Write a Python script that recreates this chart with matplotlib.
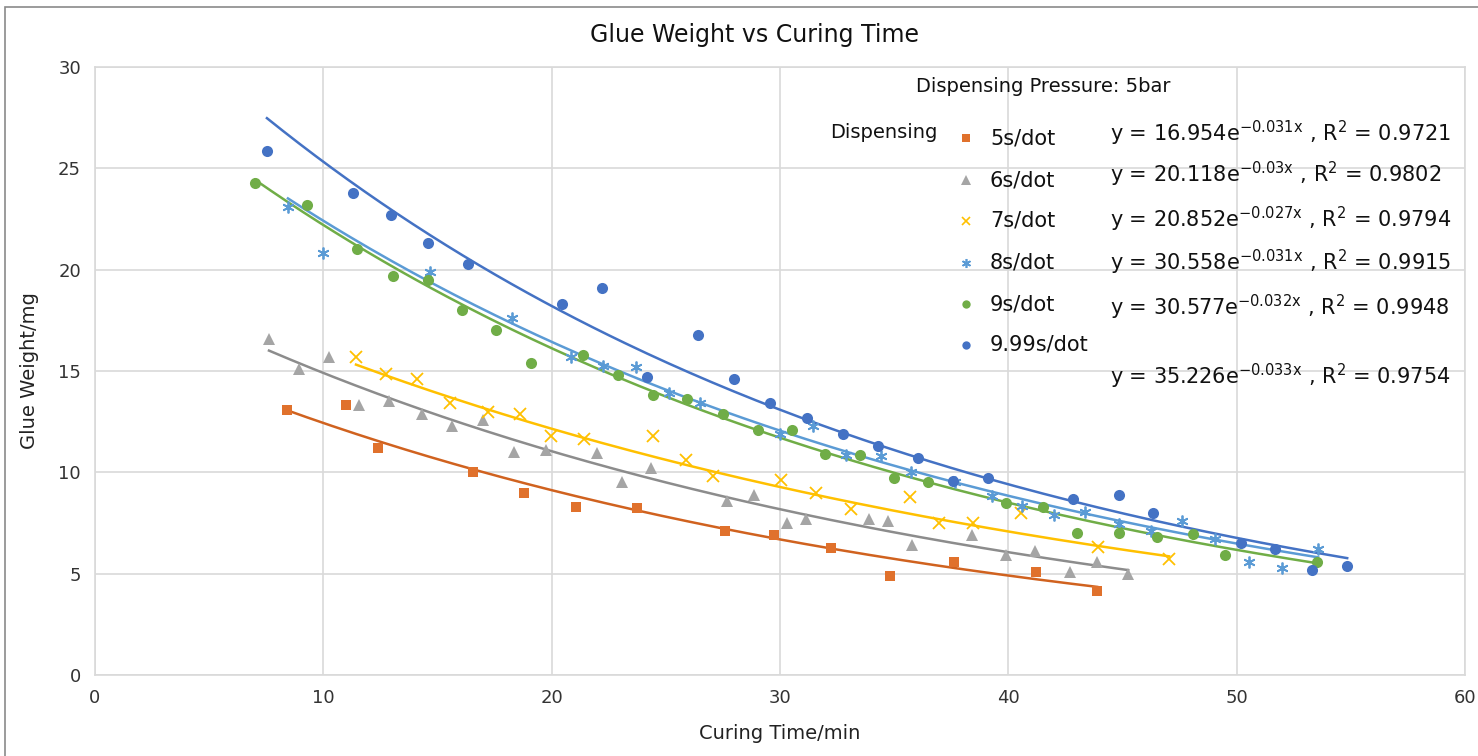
import numpy as np
import matplotlib
matplotlib.use("Agg")
import matplotlib.pyplot as plt
from matplotlib.patches import Rectangle

plt.rcParams['font.family'] = ['DejaVu Sans']
plt.rcParams['mathtext.default'] = 'regular'

# ---------------- data ----------------
labels = ["5s/dot", "6s/dot", "7s/dot", "8s/dot", "9s/dot", "9.99s/dot"]

x_5s = [8.41, 10.99, 12.40, 16.56, 18.79, 21.07, 23.74, 27.60, 29.74, 32.24, 34.82, 37.63, 41.22, 43.89]
y_5s = [13.1, 13.3, 11.2, 10.0, 9.0, 8.3, 8.25, 7.1, 6.9, 6.27, 4.88, 5.57, 5.08, 4.14]

x_6s = [7.62, 8.94, 10.25, 11.56, 12.88, 14.32, 15.64, 16.99, 18.35, 19.75, 21.99, 23.08,
        24.35, 27.68, 28.87, 30.31, 31.14, 33.90, 34.73, 35.79, 38.41, 39.90, 41.17, 42.71, 43.89, 45.25]
y_6s = [16.6, 15.1, 15.7, 13.3, 13.5, 12.9, 12.3, 12.6, 11.0, 11.1, 10.95, 9.5,
        10.2, 8.6, 8.9, 7.5, 7.7, 7.7, 7.6, 6.4, 6.9, 5.9, 6.1, 5.1, 5.6, 5.0]

x_7s = [11.43, 12.75, 14.10, 15.55, 17.21, 18.62, 19.97, 21.42, 24.44, 25.89, 27.07, 30.05,
        31.58, 33.11, 35.70, 36.97, 38.46, 40.56, 43.93, 47.04]
y_7s = [15.7, 14.85, 14.6, 13.4, 13.0, 12.9, 11.8, 11.64, 11.8, 10.6, 9.8, 9.6,
        9.0, 8.2, 8.8, 7.5, 7.5, 8.0, 6.3, 5.7]

x_8s = [8.45, 9.99, 14.67, 18.27, 20.85, 22.25, 23.70, 25.14, 26.50, 30.00, 31.45, 32.90,
        34.43, 35.74, 37.67, 39.29, 40.60, 42.00, 43.36, 44.85, 46.25, 47.61, 49.06, 50.55, 52.00, 53.57]
y_8s = [23.1, 20.8, 19.9, 17.6, 15.7, 15.24, 15.2, 13.9, 13.4, 11.9, 12.3, 10.85,
        10.8, 10.0, 9.5, 8.85, 8.34, 7.9, 8.04, 7.45, 7.1, 7.6, 6.7, 5.6, 5.3, 6.2]

x_9s = [7.00, 9.29, 11.46, 13.05, 14.59, 16.07, 17.56, 19.10, 21.38, 22.90, 24.44, 25.93,
        27.50, 29.04, 30.53, 31.98, 33.51, 35.00, 36.49, 39.90, 41.52, 43.01, 44.85, 46.52,
        48.10, 49.50, 53.53]
y_9s = [24.3, 23.2, 21.0, 19.7, 19.5, 18.0, 17.0, 15.4, 15.8, 14.8, 13.8, 13.6,
        12.9, 12.1, 12.1, 10.9, 10.85, 9.7, 9.5, 8.5, 8.3, 7.0, 7.0, 6.8,
        6.96, 5.9, 5.6]

x_999s = [7.53, 11.30, 12.97, 14.59, 16.34, 20.46, 22.21, 24.18, 26.41, 27.99, 29.57, 31.19,
          32.76, 34.30, 36.05, 37.58, 39.12, 42.84, 44.85, 46.34, 50.20, 51.69, 53.31, 54.84]
y_999s = [25.85, 23.8, 22.7, 21.3, 20.3, 18.3, 19.1, 14.7, 16.8, 14.6, 13.4, 12.7,
          11.9, 11.3, 10.7, 9.57, 9.7, 8.7, 8.9, 8.0, 6.5, 6.2, 5.2, 5.4]

# trendline coefficients shown on the chart: y = a * exp(b x)
trend_a = [16.954, 20.118, 20.852, 30.558, 30.577, 35.226]
trend_b = [-0.031, -0.03, -0.027, -0.031, -0.032, -0.033]
trend_a_txt = ["16.954", "20.118", "20.852", "30.558", "30.577", "35.226"]
trend_b_txt = ["-0.031x", "-0.03x", "-0.027x", "-0.031x", "-0.032x", "-0.033x"]
r2_txt = ["0.9721", "0.9802", "0.9794", "0.9915", "0.9948", "0.9754"]

xs = [x_5s, x_6s, x_7s, x_8s, x_9s, x_999s]
ys = [y_5s, y_6s, y_7s, y_8s, y_9s, y_999s]

x_ticks = [0, 10, 20, 30, 40, 50, 60]
y_ticks = [0, 5, 10, 15, 20, 25, 30]

# ---------------- style ----------------
colors = ["#E0712C", "#A5A5A5", "#FFC000", "#5B9BD5", "#70AD47", "#4472C4"]
line_colors = ["#D0621F", "#8C8C8C", "#FFC000", "#5B9BD5", "#70AD47", "#4472C4"]
markers = ["s", "^", "x", (6, 2, 0), "o", "o"]
msizes = [7.5, 9, 8, 8.5, 8, 8]
leg_msizes = [6, 6.5, 6, 6.5, 6, 6]

W, H = 1478, 756
fig = plt.figure(figsize=(W / 100, H / 100), dpi=100)
fig.patches.append(Rectangle((5 / W, -0.05), 1.1, 1.05 - 7 / H, transform=fig.transFigure,
                             fill=False, edgecolor="#8a8a8a", lw=1.2))

left, right, top, bottom = 95, 1465, 67, 675
ax = fig.add_axes([left / W, 1 - bottom / H, (right - left) / W, (bottom - top) / H])

for i in range(6):
    x = np.array(xs[i]); y = np.array(ys[i])
    m = markers[i]
    filled = m in ("o", "s", "^")
    ax.plot(x, y, linestyle="none", marker=m, ms=msizes[i], mew=0 if filled else 1.3,
            color=colors[i], zorder=3)
    xt = np.linspace(x.min(), x.max(), 200)
    ax.plot(xt, trend_a[i] * np.exp(trend_b[i] * xt), color=line_colors[i], lw=1.8, zorder=2)

ax.set_xlim(0, 60)
ax.set_ylim(0, 30)
ax.set_xticks(x_ticks)
ax.set_yticks(y_ticks)
ax.grid(True, color="#d9d9d9", lw=1.2)
ax.set_axisbelow(True)
for s in ax.spines.values():
    s.set_color("#d9d9d9")
    s.set_linewidth(1.2)
ax.tick_params(length=0, labelsize=13, colors="#333333", pad=10)

ax.set_xlabel("Curing Time/min", fontsize=14, color="#222222", labelpad=12)
ax.set_ylabel("Glue Weight/mg", fontsize=14, color="#222222", labelpad=14)
fig.text(755 / W, 1 - 35 / H, "Glue Weight vs Curing Time", ha="center", va="center",
         fontsize=17, color="#111111")

# legend / annotations (in pixel positions)
def px(xp, yp):
    return xp / W, 1 - yp / H

fig.text(*px(1043, 86), "Dispensing Pressure: 5bar", ha="center", va="center", fontsize=14, color="#111")
fig.text(*px(830, 132), "Dispensing", ha="left", va="center", fontsize=14, color="#111")
leg_y = [138, 180, 221, 263, 304, 345]
eq_y = [133, 174, 219, 262, 307, 376]
for i in range(6):
    filled = markers[i] in ("o", "s", "^")
    ax.plot([(966 - left) / (right - left) * 60], [(bottom - leg_y[i]) / (bottom - top) * 30],
            linestyle="none", marker=markers[i], ms=leg_msizes[i],
            mew=0 if filled else 1.2, color=colors[i], clip_on=False, zorder=4)
    fig.text(*px(990, leg_y[i]), labels[i], ha="left", va="center", fontsize=15, color="#111")
    fig.text(*px(1110, eq_y[i]),
             "y = " + trend_a_txt[i] + "e$^{" + trend_b_txt[i] + "}$ , R$^{2}$ = " + r2_txt[i],
             ha="left", va="center", fontsize=15, color="#111")

fig.savefig("out.png", dpi=100)
